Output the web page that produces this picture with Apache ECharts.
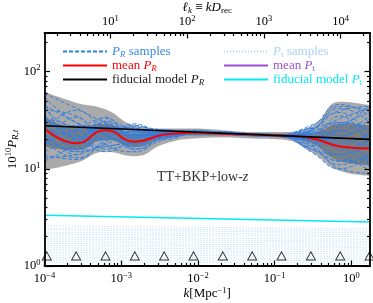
<!DOCTYPE html>
<html><head><meta charset="utf-8">
<script src="https://cdn.jsdelivr.net/npm/echarts@6/dist/echarts.min.js"></script>
<style>html,body{margin:0;padding:0;background:#fff}#c{width:373px;height:303px}</style>
</head><body><div id="c"></div>
<script>
// ---- data ----
const K_GRID = [1e-4, 2.585e-4, 6.24e-4, 1.505e-3, 3.63e-3, 8.76e-3, 2.11e-2, 5.10e-2, 0.123, 0.297, 0.716, 1.75];
const KNOTS = [1.07e-4, 2.585e-4, 6.24e-4, 1.505e-3, 3.63e-3, 8.76e-3, 2.11e-2, 5.10e-2, 0.123, 0.297, 0.716, 1.728];
const KNOT_Y = 1.27;

const MEAN_R = [26, 18.3, 25, 19, 22.5, 23.5, 23, 22.5, 22, 20.8, 17, 16.2];
const FID_R_K = [1e-4, 1.75];
const FID_R = [27.8, 20.1];
const FID_T = [3.33, 2.84];

const LIGHT_UP = [62, 48, 41, 28, 26, 26, 25, 24, 24, 27, 49, 45];
const DARK_UP = [34, 27, 29, 23, 24.3, 24.5, 24, 23.3, 23, 23.3, 29, 28];
const DARK_LO = [17, 15.5, 20, 16.8, 20.5, 22, 22, 21.5, 21, 18.5, 12, 11];
const LIGHT_LO = [9.8, 11.5, 15, 13.5, 18, 20.5, 21, 20.5, 20, 15, 9.5, 8.5];

const SAMPLES_R = [
 [60, 42, 30, 24, 24, 24.5, 23.5, 22.8, 22.3, 25, 40, 44],
 [14, 12.5, 20, 28, 23, 23, 23.5, 22, 21.5, 18, 10, 9],
 [35, 20, 17, 22, 25, 24, 23, 22.5, 22, 23, 30, 25],
 [22, 15, 28, 16, 21, 24.5, 24, 23, 22, 19, 14, 18],
 [45, 30, 22, 18, 23, 23.5, 23, 23, 22.5, 27, 46, 35],
 [18, 25, 33, 20, 20, 23, 23, 22.5, 21.5, 16, 12, 22],
 [28, 14, 24, 26, 23, 24, 23.5, 22.5, 22, 21, 19, 12],
 [40, 35, 18, 15, 22, 25, 23, 22, 22, 24, 33, 42],
 [12, 18, 30, 22, 21, 23, 23.5, 23, 22, 17, 11, 15],
 [25, 22, 20, 25, 24, 23, 23, 22.5, 22.5, 26, 22, 28],
 [50, 20, 26, 19, 22, 24, 23, 22, 21.5, 20, 25, 10],
 [16, 28, 22, 17, 24, 24.5, 23, 22.5, 22.5, 22, 16, 20],
 [30, 17, 34, 21, 21, 23, 24, 22.5, 21.5, 18, 28, 38],
 [20, 13, 19, 27, 25, 23.5, 23, 23, 22, 25, 42, 30],
 [33, 26, 16, 19, 23, 24, 23, 22, 22, 21, 13, 11],
 [24, 40, 26, 23, 22, 23, 23.5, 22.5, 22, 15, 10, 14],
 [38, 16, 21, 24, 23, 24, 22.5, 22.5, 22.5, 23, 35, 16],
 [15, 21, 27, 18, 22, 23, 23.5, 22.5, 21.5, 20, 18, 24],
 [27, 19, 23, 22, 24, 24, 23, 22.5, 22, 19, 21, 33],
 [55, 30, 25, 16, 20, 24, 23, 23, 22, 28, 38, 20],
 [19, 16, 31, 25, 22, 23, 23, 22, 22, 24, 15, 9.5],
 [32, 23, 15, 20, 24, 23.5, 24, 22.5, 22, 17, 26, 45],
 [21, 24, 24, 29, 23, 23, 23, 22.5, 21.5, 22, 20, 17],
 [13, 14, 18, 23, 25, 24, 23, 22.5, 22.5, 26, 30, 27],
 [42, 27, 29, 17, 21, 23.5, 23.5, 23, 22, 19, 12, 13],
 [26, 18, 22, 24, 22, 24, 23, 22, 22.5, 23, 24, 36],
 [17, 34, 20, 21, 23, 23, 23, 22.5, 22, 16, 14, 25],
 [36, 21, 27, 26, 22, 24, 23.5, 22.5, 22, 25, 44, 40],
 [23, 15, 17, 19, 23, 23.5, 23, 23, 21.5, 21, 17, 11],
 [29, 25, 25, 22, 23, 24, 23, 22.5, 22, 20, 29, 19]
];

const T_K = [1e-4, 1e-2, 1.75];
const SAMPLES_T = [
 [2.6, 2.5, 2.42], [2.45, 2.38, 2.3], [2.35, 2.28, 2.2], [2.22, 2.16, 2.1], [2.12, 2.06, 2.0],
 [2.0, 1.94, 1.88], [1.9, 1.85, 1.8], [1.8, 1.76, 1.72], [1.71, 1.67, 1.63], [1.62, 1.59, 1.55],
 [1.54, 1.51, 1.48], [1.46, 1.43, 1.4], [1.38, 1.36, 1.33], [1.3, 1.28, 1.26], [1.23, 1.21, 1.19],
 [1.16, 1.15, 1.13], [1.1, 1.09, 1.07]
];

const K_MAJOR = [1e-4, 1e-3, 1e-2, 1e-1, 1];
const K_MINOR = [2e-4,3e-4,4e-4,5e-4,6e-4,7e-4,8e-4,9e-4, 2e-3,3e-3,4e-3,5e-3,6e-3,7e-3,8e-3,9e-3,
  0.02,0.03,0.04,0.05,0.06,0.07,0.08,0.09, 0.2,0.3,0.4,0.5,0.6,0.7,0.8,0.9];
const D_REC = 13800;
const L_MAJOR = [10, 100, 1000, 10000];
const L_MINOR = [2,3,4,5,6,7,8,9, 20,30,40,50,60,70,80,90, 200,300,400,500,600,700,800,900,
  2000,3000,4000,5000,6000,7000,8000,9000, 20000];
const Y_MAJOR = [1, 10, 100];
const Y_MINOR = [2,3,4,5,6,7,8,9, 20,30,40,50,60,70,80,90, 200];

// ---- styling ----
const FONT = 'Liberation Serif';
const BLUE = '#2f7fe4', LBLUE = '#b0daf4', RED = '#ff0000', PURPLE = '#9a4fd6', CYAN = '#00eaf0';
const KMIN = 1e-4, KMAX = 1.75, YMIN = 1, YMAX = 250;
const richBase = {
  i: {fontFamily: FONT, fontStyle: 'italic', fontSize: 13},
  sup: {fontFamily: FONT, fontSize: 8.5, padding: [0, 0, 7, 0]},
  sub: {fontFamily: FONT, fontSize: 9, padding: [6, 0, 0, 0]},
  subi: {fontFamily: FONT, fontSize: 9, fontStyle: 'italic', padding: [6, 0, 0, 0]}
};
function powLabel(v) {
  const e = Math.round(Math.log10(v));
  return '10{sup|' + (e < 0 ? '\u2212' + (-e) : e) + '}';
}
const tickLine = {color: '#000', width: 1.2};
function axisPair(kind, pos, min, max, major, minor, showLabel, labelMargin, extra) {
  const main = Object.assign({
    type: 'log', logBase: 10, min: min, max: max, position: pos, z: 10,
    nameMoveOverlap: false,
    axisLine: {show: true, onZero: false, lineStyle: {color: '#000', width: 1.8}},
    axisTick: {show: true, inside: true, length: 5.5, lineStyle: tickLine, customValues: major},
    axisLabel: {show: showLabel, customValues: major, formatter: powLabel, margin: labelMargin,
      color: '#000', fontFamily: FONT, fontSize: 12.5, rich: richBase},
    splitLine: {show: false}, minorTick: {show: false}
  }, extra || {});
  const mn = {
    type: 'log', logBase: 10, min: min, max: max, position: pos, z: 10,
    axisLine: {show: false},
    axisTick: {show: true, inside: true, length: 3, lineStyle: tickLine, customValues: minor},
    axisLabel: {show: false}, splitLine: {show: false}
  };
  return [main, mn];
}

const xAxes = [].concat(
  axisPair('x', 'bottom', KMIN, KMAX, K_MAJOR, K_MINOR, true, 5, {
    name: '{i|k}[Mpc{sup|\u22121}]', nameLocation: 'middle', nameGap: 20,
    nameTextStyle: {color: '#000', fontFamily: FONT, fontSize: 13, rich: richBase}
  }),
  axisPair('x', 'top', KMIN * D_REC, KMAX * D_REC, L_MAJOR, L_MINOR, true, 3, {
    name: '{i|\u2113}{subi|k} \u2261 {i|kD}{sub|rec}', nameLocation: 'middle', nameGap: 18,
    nameTextStyle: {color: '#000', fontFamily: FONT, fontSize: 13, rich: richBase}
  })
);
const yAxes = [].concat(
  axisPair('y', 'left', YMIN, YMAX, Y_MAJOR, Y_MINOR, true, 4, {
    name: '10{sup|10}{i|P}{subi|R,t}', nameLocation: 'middle', nameGap: 24, nameRotate: 90,
    nameTextStyle: {color: '#000', fontFamily: FONT, fontSize: 13, rich: richBase}
  }),
  axisPair('y', 'right', YMIN, YMAX, Y_MAJOR, Y_MINOR, false, 4)
);

const series = [];
function band(vals, color, z) {
  series.push({type: 'line', data: K_GRID.map((k, i) => [k, vals[i]]), smooth: 0.5, symbol: 'none',
    lineStyle: {width: 0}, areaStyle: {color: color, opacity: 1, origin: 'start'}, silent: true, z: z});
}
band(LIGHT_UP, '#aaaaaa', 1);
band(DARK_UP, '#7e7e7e', 1);
band(DARK_LO, '#aaaaaa', 1);
band(LIGHT_LO, '#ffffff', 1);
SAMPLES_R.forEach(s => series.push({
  type: 'line', name: 'sR', data: K_GRID.map((k, i) => [k, s[i]]), smooth: 0.5, symbol: 'none',
  itemStyle: {color: BLUE},
  lineStyle: {color: BLUE, width: 1, type: [4, 2]}, silent: true, z: 3
}));
SAMPLES_T.forEach(s => series.push({
  type: 'line', name: 'st', data: T_K.map((k, i) => [k, s[i]]), smooth: false, symbol: 'none',
  itemStyle: {color: LBLUE},
  lineStyle: {color: LBLUE, width: 0.9, type: [1.2, 1.8]}, silent: true, z: 3
}));
series.push({type: 'line', name: 'mR', data: K_GRID.map((k, i) => [k, MEAN_R[i]]), smooth: 0.5, symbol: 'none',
  itemStyle: {color: RED}, lineStyle: {color: RED, width: 2}, silent: true, z: 5});
series.push({type: 'line', name: 'fR', data: FID_R_K.map((k, i) => [k, FID_R[i]]), symbol: 'none',
  itemStyle: {color: '#000'}, lineStyle: {color: '#000', width: 1.6}, silent: true, z: 6});
series.push({type: 'line', name: 'mt', data: [], symbol: 'none',
  itemStyle: {color: PURPLE}, lineStyle: {color: PURPLE, width: 2}, silent: true, z: 5});
series.push({type: 'line', name: 'ft', data: FID_R_K.map((k, i) => [k, FID_T[i]]), symbol: 'none',
  itemStyle: {color: CYAN}, lineStyle: {color: CYAN, width: 1.6}, silent: true, z: 6});
series.push({type: 'scatter', data: KNOTS.map(k => [k, KNOT_Y]), symbol: 'triangle', symbolSize: [9, 8],
  itemStyle: {color: 'rgba(0,0,0,0)', borderColor: '#000', borderWidth: 1}, clip: false, silent: true, z: 7});

const LABELS = {
  sR: '{i|P}{subi|R} samples', mR: 'mean {i|P}{subi|R}', fR: 'fiducial model {i|P}{subi|R}',
  st: '{i|P}{sub|t} samples', mt: 'mean {i|P}{sub|t}', ft: 'fiducial model {i|P}{sub|t}'
};
function legendCol(names, colors, left) {
  return {
    orient: 'vertical', left: left, top: 40, itemWidth: 44, itemHeight: 10, itemGap: 0,
    selectedMode: false,
    itemStyle: {opacity: 0, borderWidth: 0},
    data: names.map((n, i) => ({name: n, textStyle: {color: colors[i]}})),
    formatter: n => LABELS[n],
    textStyle: {fontFamily: FONT, fontSize: 13, rich: richBase}
  };
}

const chart = echarts.init(document.getElementById('c'), null, {renderer: 'canvas'});
chart.setOption({
  animation: false,
  backgroundColor: '#fff',
  grid: {left: 44.5, right: 3, top: 33, bottom: 37, containLabel: false, outerBoundsMode: 'none'},
  xAxis: xAxes.map(a => Object.assign(a, {gridIndex: 0})),
  yAxis: yAxes.map(a => Object.assign(a, {gridIndex: 0})),
  legend: [
    legendCol(['sR', 'mR', 'fR'], ['#3a86ea', RED, '#222'], 57),
    legendCol(['st', 'mt', 'ft'], ['#a6d3f2', PURPLE, CYAN], 218)
  ],
  graphic: [{
    type: 'text', left: 157, top: 170, z: 20,
    style: {text: 'TT+BKP+low-{i|z}', fontFamily: FONT, fontSize: 14, fill: '#333',
      rich: {i: {fontFamily: FONT, fontStyle: 'italic', fontSize: 14, fill: '#333'}}}
  }],
  series: series
});
</script></body></html>
